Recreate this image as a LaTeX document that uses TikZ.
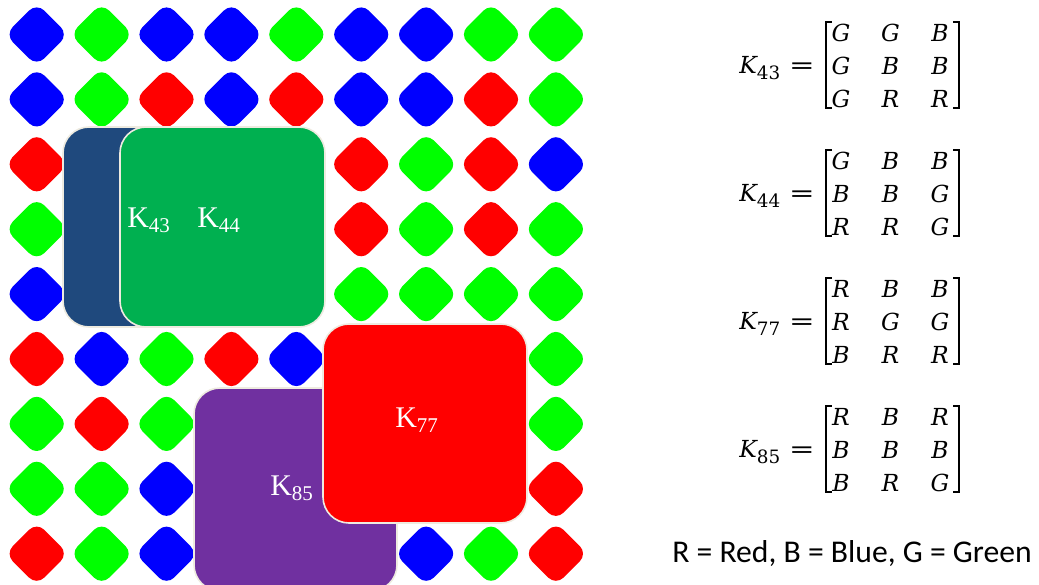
\documentclass[tikz,border=0pt]{standalone}
\usepackage{fontspec}
\newfontfamily\labelfont{Liberation Serif}
\newfontfamily\legendfont{Carlito}
\newfontfamily\eqfont{DejaVu Serif}

\definecolor{cellR}{HTML}{FF0000}
\definecolor{cellG}{HTML}{00FF00}
\definecolor{cellB}{HTML}{0000FF}
\definecolor{boxnavy}{HTML}{1F497D}
\definecolor{boxgreen}{HTML}{00B050}
\definecolor{boxred}{HTML}{FF0000}
\definecolor{boxpurple}{HTML}{7030A0}
\definecolor{boxedge}{HTML}{EEEBE0}

\tikzset{
  cell/.style={rounded corners=8pt},
  kbox/.style={draw=boxedge, line width=1.2pt, rounded corners=19.5pt},
  klabel/.style={inner sep=0pt, anchor=base west, text=white,
    font=\labelfont\fontsize{22.5}{27}\selectfont},
  mtext/.style={inner sep=0pt, font=\eqfont\fontsize{17.6}{21}\selectfont},
  bracket/.style={line width=1.1pt, line cap=rect},
  legend/.style={inner sep=0pt, anchor=base west,
    font=\legendfont\fontsize{23.75}{28}\selectfont}
}

% box label: K with a lowered index
\newcommand\kname[1]{K\raisebox{-3.75pt}{\fontsize{15.75}{18}\selectfont #1}}
% matrix name: italic K with a lowered upright index
\newcommand\kmathname[1]{\itshape K\upshape\raisebox{-5pt}{\fontsize{13.8}{16}\selectfont #1}}

% one 3x3 colour matrix: #1 index, #2 vertical offset, #3 entries row by row
\newcommand\kmatrix[3]{%
  \node[mtext, anchor=base west] (k#1) at (739,{73.3+#2}) {\kmathname{#1}};
  \node[mtext, anchor=base] (eq#1) at (802,{73.3+#2}) {\scalebox{1.3}[1]{=}};
  \foreach \e [count=\n from 0] in {#3} {
    \pgfmathtruncatemacro\r{int(\n/3)}
    \pgfmathtruncatemacro\c{mod(\n,3)}
    \node[mtext, anchor=base] (m#1-\r-\c) at ({841+49.5*\c},{41.5+32.8*\r+#2}) {\itshape\e};
  }
  \draw[bracket] (831,{22+#2}) -- (826,{22+#2}) -- (826,{108+#2}) -- (831,{108+#2});
  \draw[bracket] (954,{22+#2}) -- (959,{22+#2}) -- (959,{108+#2}) -- (954,{108+#2});
}

\begin{document}
\begin{tikzpicture}[x=0.75pt,y=-0.75pt]
\useasboundingbox (0,0) rectangle (1039,585);

\begin{scope}
  \clip (0,0) rectangle (1039,585);
  % grid of coloured pixels
  \foreach \row [count=\j] in {
      {B,G,B,B,G,B,B,G,G},
      {B,G,R,B,R,B,B,R,G},
      {R,G,G,B,B,R,G,R,B},
      {G,G,B,B,G,R,G,R,G},
      {B,G,R,R,G,G,G,G,G},
      {R,B,G,R,B,R,B,B,G},
      {G,R,G,R,B,R,G,G,G},
      {G,G,B,B,B,B,R,R,R},
      {R,G,B,B,R,G,B,G,R}} {
    \foreach \col [count=\i] in \row {
      \path[cell, fill=cell\col]
        ({36.7+64.9*(\i-1)-31.5},{34.5+64.9*(\j-1)})
        -- ++(31.5,-31.5) -- ++(31.5,31.5) -- ++(-31.5,31.5) -- cycle;
    }
  }

  % kernel windows
  \path[kbox, fill=boxnavy]   (63,127) rectangle (268,327);
  \path[kbox, fill=boxgreen]  (120,127) rectangle (325,327);
  \path[kbox, fill=boxpurple] (194,388) rectangle (397,591);
  \path[kbox, fill=boxred]    (323,324) rectangle (527,523);
\end{scope}

\node[klabel] (l43) at (127,227) {\kname{43}};
\node[klabel] (l44) at (197,227) {\kname{44}};
\node[klabel] (l77) at (395,427) {\kname{77}};
\node[klabel] (l85) at (270,495) {\kname{85}};

\kmatrix{43}{0}{G,G,B,G,B,B,G,R,R}
\kmatrix{44}{128}{G,B,B,B,B,G,R,R,G}
\kmatrix{77}{256}{R,B,B,R,G,G,B,R,R}
\kmatrix{85}{384}{R,B,R,B,B,B,B,R,G}

\node[legend] (key) at (672,562) {R = Red, B = Blue, G = Green};
\end{tikzpicture}
\end{document}
